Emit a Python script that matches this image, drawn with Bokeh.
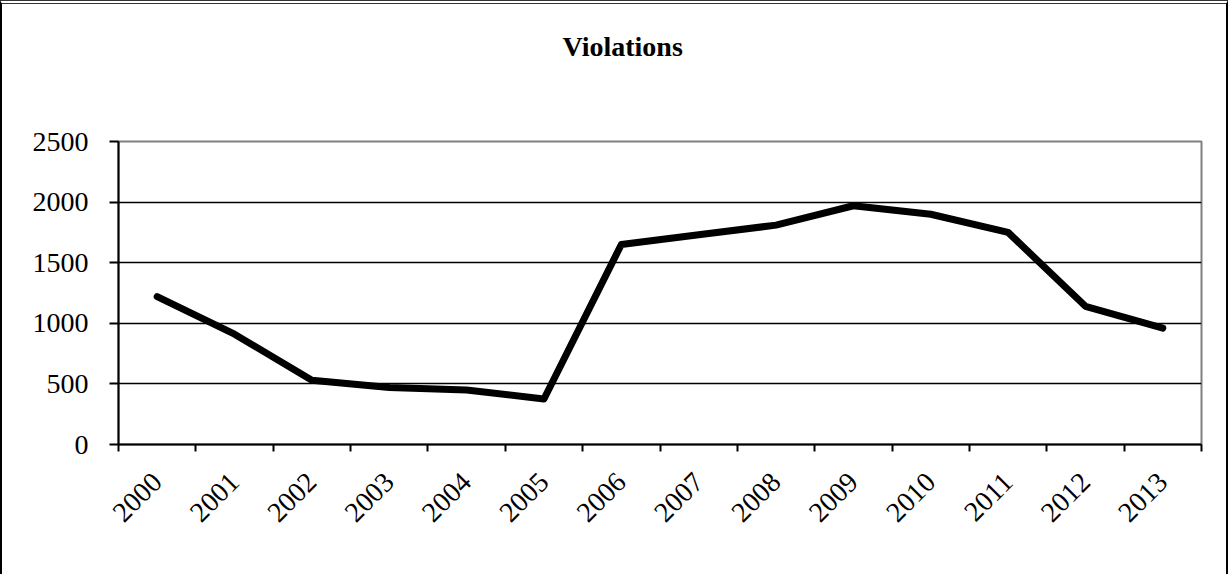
import math
from bokeh.plotting import figure
from bokeh.models import FixedTicker, Range1d, ColumnDataSource, Title
from bokeh.embed import file_html
from bokeh.resources import INLINE

years = ["2000", "2001", "2002", "2003", "2004", "2005", "2006",
         "2007", "2008", "2009", "2010", "2011", "2012", "2013"]
violations = [1220, 910, 530, 470, 450, 375, 1650, 1730, 1810, 1970, 1900, 1750, 1140, 960]
y_ticks = [0, 500, 1000, 1500, 2000, 2500]
title_text = "Violations"

FONT = "Liberation Serif"

xs = [i + 0.5 for i in range(len(years))]
src = ColumnDataSource(dict(x=xs, y=violations))

p = figure(
    frame_width=1083, frame_height=303,
    min_border_left=116, min_border_right=25, min_border_top=137, min_border_bottom=130,
    output_backend="svg", toolbar_location=None,
    x_range=Range1d(0, len(years)), y_range=Range1d(0, 2500),
    title=None,
)
p.styles = {"border-left": "2px solid black", "border-right": "2px solid black",
            "border-top": "4px double #333333"}

# near-invisible spacer between the frame and the title (added first -> nearest the frame)
p.add_layout(Title(text=" ", text_font_size="1px", standoff=72), "above")
# the chart title (added second -> above the spacer)
p.add_layout(Title(text=title_text, text_font=FONT, text_font_style="bold",
                   text_font_size="28px", align="left", offset=444, standoff=10,
                   text_color="black"), "above")

p.line("x", "y", source=src, line_color="black", line_width=7,
       line_cap="round", line_join="round")

# axes
xa = p.xaxis[0]
xa.ticker = FixedTicker(ticks=xs, minor_ticks=list(range(len(years) + 1)))
xa.major_label_overrides = {x: y for x, y in zip(xs, years)}
xa.major_tick_line_color = None
xa.minor_tick_line_color = "black"
xa.minor_tick_line_width = 2
xa.minor_tick_out = 7
xa.minor_tick_in = 0
xa.axis_line_color = "black"
xa.axis_line_width = 2
xa.major_label_orientation = math.pi / 4
xa.major_label_text_font = FONT
xa.major_label_text_font_size = "28px"
xa.major_label_text_color = "black"
xa.major_label_standoff = 26

ya = p.yaxis[0]
ya.ticker = FixedTicker(ticks=y_ticks)
ya.minor_tick_line_color = None
ya.major_tick_line_color = "black"
ya.major_tick_line_width = 2
ya.major_tick_out = 9
ya.major_tick_in = 0
ya.axis_line_color = "black"
ya.axis_line_width = 2
ya.major_label_text_font = FONT
ya.major_label_text_font_size = "28px"
ya.major_label_text_color = "black"
ya.major_label_standoff = 21

p.xgrid.visible = False
p.ygrid.ticker = FixedTicker(ticks=y_ticks[1:-1])
p.ygrid.grid_line_color = "black"
p.ygrid.grid_line_width = 1.5

p.outline_line_color = "#808080"
p.outline_line_width = 2
p.background_fill_color = "white"
p.border_fill_color = "white"

open("out.html", "w").write(file_html(p, INLINE))
